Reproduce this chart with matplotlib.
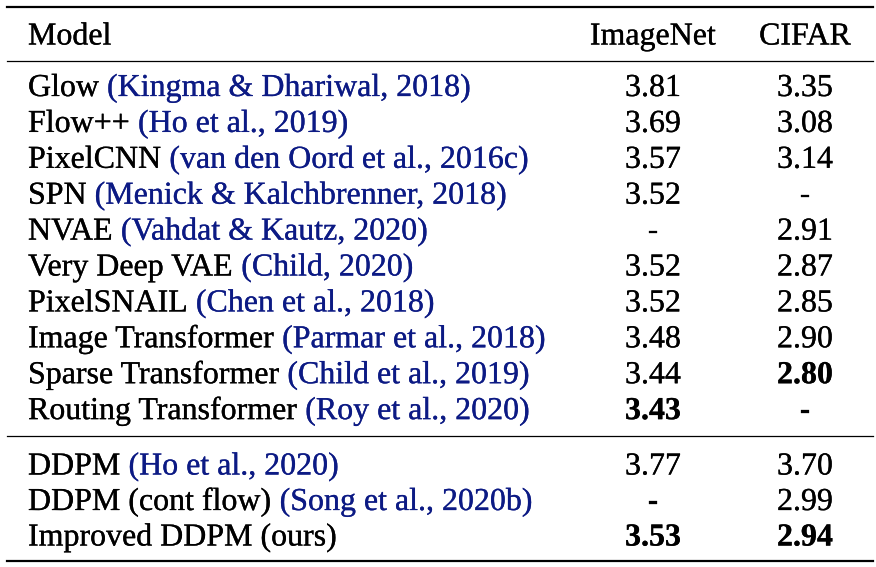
import matplotlib
matplotlib.use("Agg")
import matplotlib.pyplot as plt
import matplotlib.patheffects as pe

plt.rcParams['font.family'] = ['Liberation Serif', 'DejaVu Serif']

models = ["Glow", "Flow++", "PixelCNN", "SPN", "NVAE", "Very Deep VAE", "PixelSNAIL",
          "Image Transformer", "Sparse Transformer", "Routing Transformer",
          "DDPM", "DDPM (cont flow)", "Improved DDPM (ours)"]
cites = ["(Kingma & Dhariwal, 2018)", "(Ho et al., 2019)", "(van den Oord et al., 2016c)",
         "(Menick & Kalchbrenner, 2018)", "(Vahdat & Kautz, 2020)", "(Child, 2020)",
         "(Chen et al., 2018)", "(Parmar et al., 2018)", "(Child et al., 2019)",
         "(Roy et al., 2020)", "(Ho et al., 2020)", "(Song et al., 2020b)", ""]
imagenet = ["3.81", "3.69", "3.57", "3.52", "-", "3.52", "3.52", "3.48", "3.44", "3.43",
            "3.77", "-", "3.53"]
cifar = ["3.35", "3.08", "3.14", "-", "2.91", "2.87", "2.85", "2.90", "2.80", "-",
         "3.70", "2.99", "2.94"]
bold_imagenet = [9, 12]
bold_cifar = [8, 12]

W, H = 876, 567
fig = plt.figure(figsize=(W / 100, H / 100), dpi=100)
ax = fig.add_axes([0, 0, 1, 1])
ax.set_xlim(0, W)
ax.set_ylim(H, 0)
ax.axis("off")

fs = 23
blue = "#0c1a84"
x_model, x_in, x_ci = 28, 653, 805


def txt(x, y, s, color="black", **kw):
    return ax.text(x, y, s, fontsize=fs, va="baseline", color=color,
                   path_effects=[pe.withStroke(linewidth=0.2, foreground=color)], **kw)


# rules
ax.plot([7, 873], [6.5, 6.5], color="black", lw=1.6)
ax.plot([7, 873], [61, 61], color="black", lw=0.9)
ax.plot([7, 873], [436, 436], color="black", lw=0.9)
ax.plot([7, 873], [561, 561], color="black", lw=1.6)

txt(x_model, 44.5, "Model")
txt(x_in, 44.5, "ImageNet", ha="center")
txt(x_ci, 44.5, "CIFAR", ha="center")

baselines = [96 + 35.9 * i for i in range(10)] + [474.5 + 35.5 * i for i in range(3)]

fig.canvas.draw()
r = fig.canvas.get_renderer()
inv = ax.transData.inverted()
for i, y in enumerate(baselines):
    t = txt(x_model, y, models[i])
    if cites[i]:
        bb = t.get_window_extent(renderer=r)
        xr = inv.transform((bb.x1, bb.y0))[0]
        txt(xr + 8, y, cites[i], color=blue)
    txt(x_in, y, imagenet[i], ha="center",
        fontweight="bold" if i in bold_imagenet else "normal")
    txt(x_ci, y, cifar[i], ha="center",
        fontweight="bold" if i in bold_cifar else "normal")

fig.savefig("out.png", dpi=100)
